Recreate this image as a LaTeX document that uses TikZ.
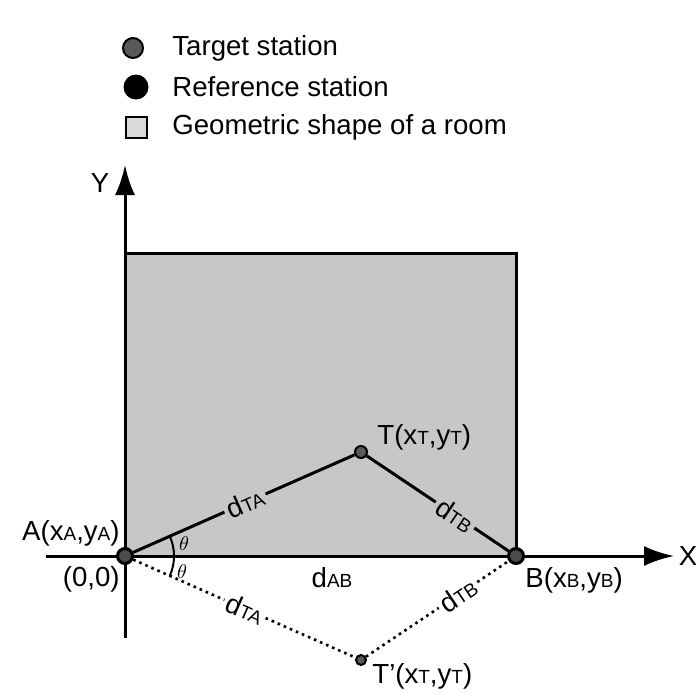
\documentclass[tikz,border=0pt]{standalone}
\usepackage{fontspec}
\setmainfont{Liberation Sans}
\usetikzlibrary{arrows.meta,positioning}
\newcommand{\sbs}[1]{{\fontsize{9.5}{10}\selectfont #1}}

\begin{document}
\begin{tikzpicture}[x=0.5pt,y=-0.5pt,
  lbl/.style={font=\fontsize{13.8}{15}\selectfont,inner sep=1pt},
  dlbl/.style={font=\fontsize{13.8}{15}\selectfont,inner sep=1.5pt},
  axis/.style={-{Latex[length=15pt,width=10pt]},line width=1.5pt},
  dist/.style={line width=1.5pt},
  mirror/.style={line width=1.3pt,dotted},
  refst/.style={circle,draw=black,fill=black!70,line width=1.5pt,inner sep=0pt,minimum size=7.5pt},
  tgtst/.style={circle,draw=black,fill=black!65,line width=1pt,inner sep=0pt,minimum size=6pt},
  room/.style={fill=black!22,draw=black,line width=1.5pt}
]
\useasboundingbox (0,0) rectangle (696,693);
% legend
\node[tgtst,minimum size=10pt] (ktgt) at (133,48) {};
\node[lbl,anchor=west] (ttgt) at (170,48) {Target station};
\node[circle,fill=black,inner sep=0pt,minimum size=12.5pt] (kref) at (136,87) {};
\node[lbl,anchor=west] (tref) at (170,87) {Reference station};
\node[draw=black,fill=black!15,line width=1pt,inner sep=0pt,minimum size=10.5pt] (kroom) at (136,127) {};
\node[lbl,anchor=west] (troom) at (170,127) {Geometric shape of a room};

% room and axes
\draw[room] (125,253) rectangle (516,556);
\coordinate (xl) at (46,556);
\coordinate (xr) at (674,556);
\coordinate (yb) at (125,638);
\coordinate (yt) at (125,165);
\draw[axis] (xl) -- (xr);
\draw[axis] (yb) -- (yt);
\node[lbl] (xlab) at (688,556) {X};
\node[lbl] (ylab) at (100,183) {Y};

% stations
\node[refst] (A) at (125,556) {};
\node[refst] (B) at (516,556) {};
\node[tgtst] (T) at (361,452) {};
\node[tgtst,minimum size=5pt] (Tm) at (361,660) {};

% distance labels
\node[dlbl,rotate=23.8] (dta) at (245,503) {d\sbs{TA}};
\node[dlbl,rotate=-33.9] (dtb) at (455,515) {d\sbs{TB}};
\node[dlbl,rotate=-23.8] (dtam) at (245,609) {d\sbs{TA}};
\node[dlbl,rotate=33.9] (dtbm) at (458,595) {d\sbs{TB}};

\draw[dist] (A) -- (dta) -- (T);
\draw[dist] (T) -- (dtb) -- (B);
\draw[mirror] (A) -- (dtam) -- (Tm);
\draw[mirror] (Tm) -- (dtbm) -- (B);

% angles
\draw[line width=1pt] ([shift={(0:49)}]A.center) arc (0:-23.8:49);
\draw[line width=1pt] ([shift={(0:49)}]A.center) arc (0:23.8:49);
\node[font=\fontsize{10}{11}\selectfont,inner sep=0pt] (th1) at (184,544) {$\theta$};
\node[font=\fontsize{10}{11}\selectfont,inner sep=0pt] (th2) at (182,572) {$\theta$};

% point labels
\node[lbl,anchor=east] (alab) at (122,533) {A(x\sbs{A},y\sbs{A})};
\node[lbl,anchor=east] (olab) at (122,579) {(0,0)};
\node[lbl,anchor=west] (blab) at (523,580) {B(x\sbs{B},y\sbs{B})};
\node[lbl,anchor=west] (tlab) at (375,437) {T(x\sbs{T},y\sbs{T})};
\node[lbl,anchor=west] (tmlab) at (370,676) {T'(x\sbs{T},y\sbs{T})};
\node[lbl] (dab) at (332,578) {d\sbs{AB}};
\end{tikzpicture}
\end{document}
